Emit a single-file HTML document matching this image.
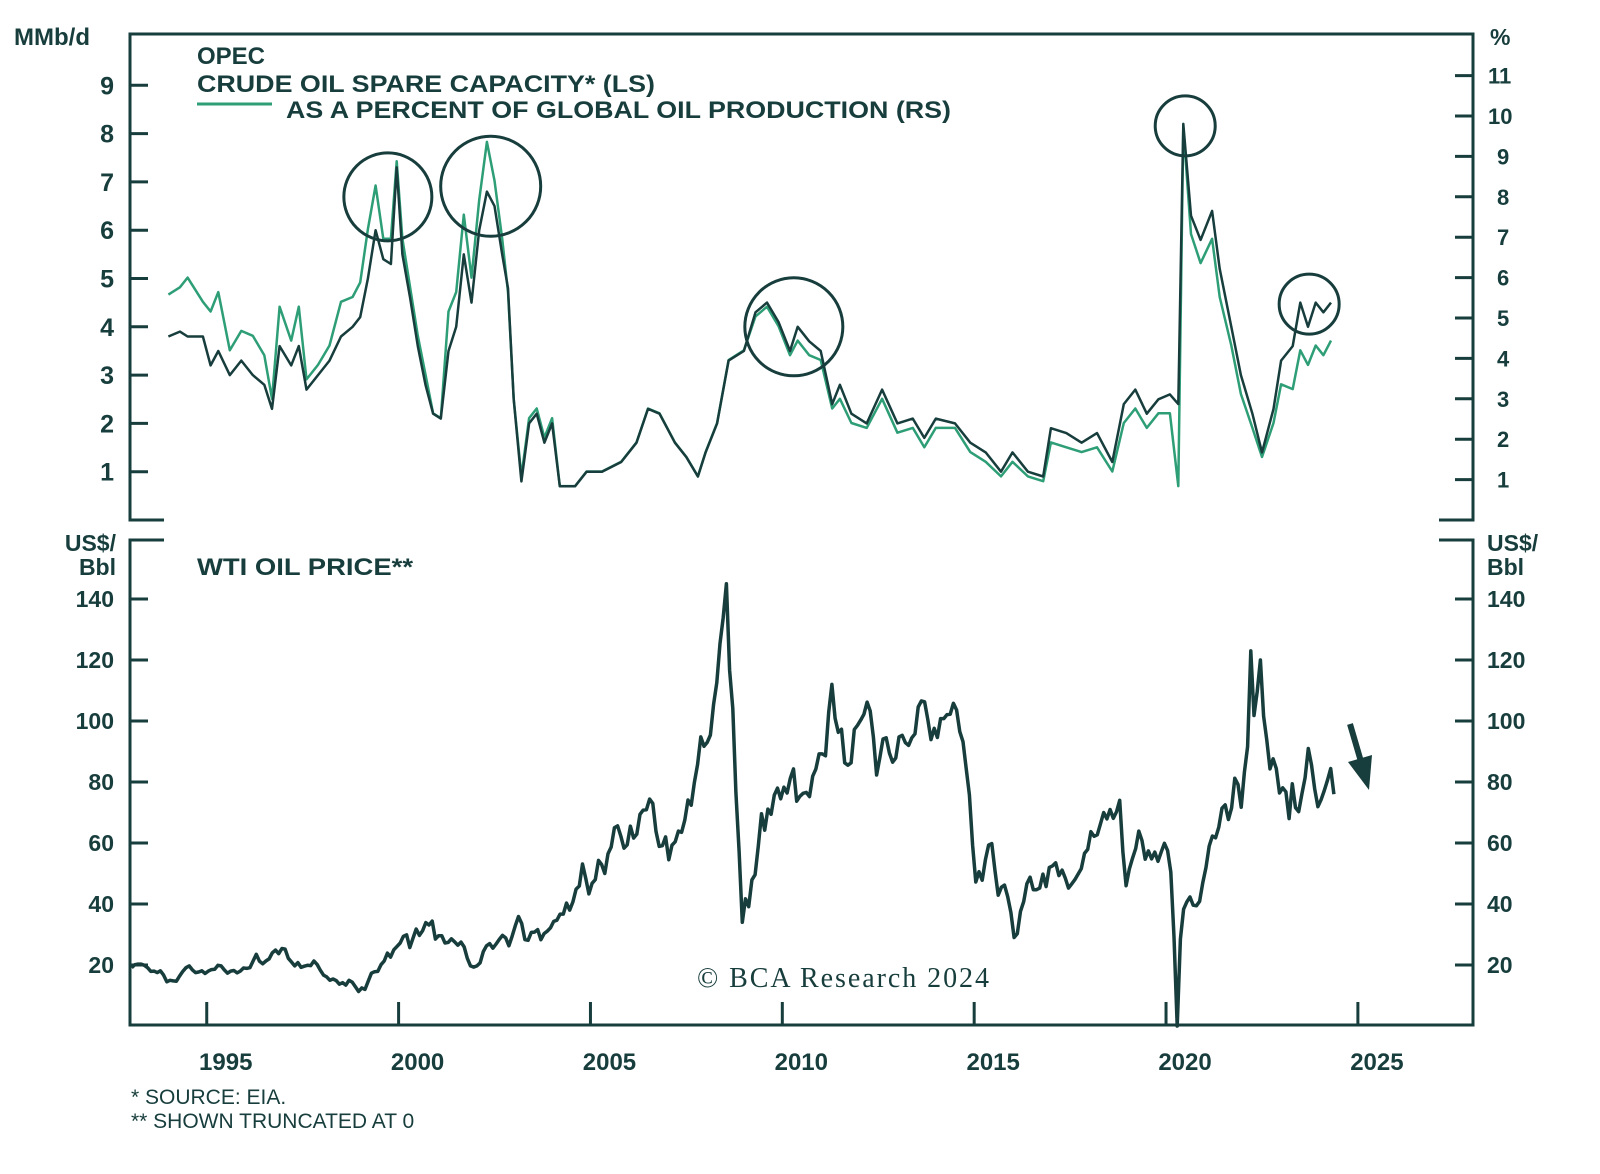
<!DOCTYPE html>
<html><head><meta charset="utf-8"><style>
html,body{margin:0;padding:0;background:#fff;}
svg{display:block;font-family:"Liberation Sans",sans-serif;font-weight:bold;}
</style></head><body>
<svg id="chart" width="1600" height="1174" viewBox="0 0 1600 1174" xmlns="http://www.w3.org/2000/svg"></svg>
<script>
const spareDates=[1994.0,1994.3,1994.5,1994.9,1995.1,1995.3,1995.6,1995.9,1996.2,1996.5,1996.7,1996.9,1997.2,1997.4,1997.6,1997.9,1998.2,1998.5,1998.8,1999.0,1999.2,1999.4,1999.6,1999.8,1999.95,2000.1,2000.3,2000.5,2000.7,2000.9,2001.1,2001.3,2001.5,2001.7,2001.9,2002.1,2002.3,2002.5,2002.7,2002.85,2003.0,2003.2,2003.4,2003.6,2003.8,2004.0,2004.2,2004.6,2004.9,2005.3,2005.8,2006.2,2006.5,2006.8,2007.2,2007.5,2007.8,2008.0,2008.3,2008.6,2009.0,2009.3,2009.6,2009.9,2010.2,2010.4,2010.7,2011.0,2011.3,2011.5,2011.8,2012.2,2012.6,2013.0,2013.4,2013.7,2014.0,2014.5,2014.9,2015.3,2015.7,2016.0,2016.4,2016.8,2017.0,2017.4,2017.8,2018.2,2018.6,2018.9,2019.2,2019.5,2019.8,2020.1,2020.32,2020.45,2020.65,2020.9,2021.2,2021.4,2021.7,2021.95,2022.25,2022.5,2022.8,2023.0,2023.3,2023.5,2023.7,2023.9,2024.1,2024.3];
const spareMbd=[3.8,3.9,3.8,3.8,3.2,3.5,3.0,3.3,3.0,2.8,2.3,3.6,3.2,3.6,2.7,3.0,3.3,3.8,4.0,4.2,5.0,6.0,5.4,5.3,7.3,5.5,4.6,3.6,2.8,2.2,2.1,3.5,4.0,5.5,4.5,6.0,6.8,6.5,5.5,4.8,2.5,0.8,2.0,2.2,1.6,2.0,0.7,0.7,1.0,1.0,1.2,1.6,2.3,2.2,1.6,1.3,0.9,1.4,2.0,3.3,3.5,4.3,4.5,4.1,3.5,4.0,3.7,3.5,2.4,2.8,2.2,2.0,2.7,2.0,2.1,1.7,2.1,2.0,1.6,1.4,1.0,1.4,1.0,0.9,1.9,1.8,1.6,1.8,1.2,2.4,2.7,2.2,2.5,2.6,2.4,8.2,6.3,5.8,6.4,5.2,4.0,3.0,2.2,1.4,2.3,3.3,3.6,4.5,4.0,4.5,4.3,4.5];
const sparePct=[5.58,5.76,6.0,5.4,5.16,5.64,4.2,4.68,4.56,4.08,3.0,5.28,4.44,5.28,3.48,3.84,4.32,5.4,5.52,5.88,7.2,8.28,6.96,6.96,8.88,6.96,5.76,4.56,3.6,2.64,2.52,5.16,5.64,7.56,6.0,7.92,9.36,8.4,6.96,5.64,3.0,1.08,2.52,2.76,2.04,2.52,0.84,0.84,1.2,1.2,1.44,1.92,2.76,2.64,1.92,1.56,1.08,1.68,2.4,3.96,4.2,5.04,5.28,4.8,4.08,4.44,4.08,3.96,2.76,3.0,2.4,2.28,3.0,2.16,2.28,1.8,2.28,2.28,1.68,1.44,1.08,1.44,1.08,0.96,1.92,1.8,1.68,1.8,1.2,2.4,2.76,2.28,2.64,2.64,0.84,9.72,7.08,6.36,6.96,5.52,4.32,3.12,2.28,1.56,2.4,3.36,3.24,4.2,3.84,4.32,4.08,4.44];
const wtiStartYear=1993;
const wtiMonthly=[19.1,20.1,20.3,20.3,19.9,19.1,17.9,18.0,17.5,18.1,16.7,14.5,
15.0,14.8,14.7,16.4,17.9,19.1,19.7,18.4,17.5,17.7,18.1,17.2,
18.0,18.5,18.6,19.9,19.7,18.4,17.3,18.0,18.2,17.4,18.0,19.0,
18.9,19.1,21.3,23.5,21.2,20.4,21.3,22.0,24.0,24.9,23.7,25.4,
25.2,22.2,21.0,19.7,20.8,19.2,19.6,19.9,19.8,21.3,20.2,18.3,
16.7,16.1,15.0,15.4,14.9,13.7,14.2,13.4,15.0,14.4,12.9,11.3,
12.5,12.0,14.7,17.3,17.8,17.9,20.1,21.3,23.9,22.6,25.0,26.1,
27.2,29.4,29.9,25.7,28.8,31.8,29.7,31.2,33.9,33.1,34.4,28.5,
29.6,29.6,27.2,27.4,28.6,27.6,26.5,27.5,25.9,22.2,19.7,19.3,
19.7,20.7,24.4,26.3,27.0,25.5,26.9,28.4,29.7,28.9,26.3,29.4,
32.9,35.9,33.6,28.3,28.1,30.7,30.8,31.6,28.3,30.3,31.1,32.2,
34.3,34.7,36.7,36.7,40.3,38.0,40.7,44.9,45.9,53.1,48.5,43.3,
46.8,48.0,54.3,53.0,50.0,56.5,58.7,65.0,65.6,62.3,58.3,59.4,
65.5,61.6,62.9,69.4,70.8,70.9,74.4,73.0,63.8,58.9,59.1,62.0,
54.5,59.3,60.4,63.9,63.5,67.5,74.1,72.4,79.9,85.8,94.8,91.7,
93.0,95.4,105.5,112.6,125.4,133.9,145.0,116.7,104.1,76.6,57.3,34.0,
41.7,39.1,47.9,49.6,59.0,69.6,64.2,71.1,69.4,75.7,78.0,74.5,
78.3,76.4,81.2,84.3,73.7,75.3,76.3,76.6,75.2,81.9,84.3,89.2,
89.2,88.6,102.9,112.0,100.9,96.3,97.3,86.3,85.5,86.3,97.2,98.6,
100.3,102.2,106.2,103.3,94.7,82.3,87.9,94.1,94.5,89.5,86.5,87.9,
94.8,95.3,92.9,92.0,94.5,95.8,104.6,106.6,106.3,100.5,93.9,97.6,
94.6,100.8,100.8,102.1,102.2,105.8,103.6,96.5,93.2,84.4,75.8,59.3,
47.2,50.6,47.8,54.5,59.3,59.8,50.9,42.9,45.5,46.2,42.4,37.2,
29.0,30.3,37.6,40.8,46.7,48.8,44.7,44.7,45.2,49.8,45.7,52.0,
52.5,53.5,49.3,51.1,48.5,45.2,46.6,48.0,49.8,51.6,56.6,57.9,
63.7,62.2,62.7,66.3,70.0,67.9,71.0,68.1,70.2,74.0,57.0,46.0,
51.4,55.0,58.2,63.9,60.8,54.7,57.4,54.8,57.0,54.0,57.0,59.9,
57.5,50.5,29.2,0.0,28.5,38.3,40.7,42.3,39.6,39.4,40.9,47.0,
52.0,59.0,62.3,61.7,65.2,71.4,72.5,67.7,71.5,81.2,79.2,71.7,
83.2,91.6,123.0,101.8,109.6,120.0,101.6,93.7,84.3,87.6,84.4,76.4,
78.1,76.8,68.0,79.4,71.6,70.3,76.1,81.4,91.0,85.6,77.7,71.9,
74.2,77.2,80.6,84.4,76.0];
const yearTicks=[1995,2000,2005,2010,2015,2020,2025];
const mbdTicks=[1,2,3,4,5,6,7,8,9];
const pctTicks=[1,2,3,4,5,6,7,8,9,10,11];
const priceTicks=[20,40,60,80,100,120,140];

const NS="http://www.w3.org/2000/svg";
const svg=document.getElementById('chart');
const X0=130,X1=1473,Y0=1993,YRS=35;
const xS=y=>X0+(y-Y0)*(X1-X0)/YRS;
const yM=v=>520-v*48.3;
const yP=v=>520-v*40.4;
const yW=v=>1026-v*3.05;
const C="#173d3c",G="#2e9e77";
function el(t,a,txt){const e=document.createElementNS(NS,t);for(const k in a)e.setAttribute(k,a[k]);if(txt!==undefined)e.textContent=txt;svg.appendChild(e);return e;}

let e;
e=el('path',{d:`M164 520 H130 V34 H1473 V520 H1439`,fill:'none',stroke:C,'stroke-width':3});


e=el('path',{d:`M164 540 H130 V1025 H1473 V540 H1439`,fill:'none',stroke:C,'stroke-width':3});



mbdTicks.forEach(v=>{const y=yM(v);
 e=el('line',{x1:130,x2:148,y1:y,y2:y,stroke:C,'stroke-width':3});
 
 
 e=el('text',{x:114,y:y+9,'text-anchor':'end','font-size':25,fill:C},v);
 
 });
pctTicks.forEach(v=>{const y=yP(v);
 e=el('line',{x1:1455,x2:1473,y1:y,y2:y,stroke:C,'stroke-width':3});
 
 
 e=el('text',{x:v>=10?1488:1497,y:y+8,'font-size':22,fill:C},v);
 
 });
priceTicks.forEach(v=>{const y=yW(v);
 e=el('line',{x1:130,x2:148,y1:y,y2:y,stroke:C,'stroke-width':3});
 
 
 e=el('line',{x1:1455,x2:1473,y1:y,y2:y,stroke:C,'stroke-width':3});
 
 
 e=el('text',{x:114,y:y+8,'text-anchor':'end','font-size':23,fill:C},v);
 
 
 e=el('text',{x:1487,y:y+8,'font-size':23,fill:C},v);
 
 });
yearTicks.forEach(v=>{const x=xS(v);
 e=el('line',{x1:x,x2:x,y1:1025,y2:1002,stroke:C,'stroke-width':3});
 
 
 e=el('text',{x:x+19,y:1070,'text-anchor':'middle','font-size':24,fill:C},v);
 
 });

e=el('text',{x:14,y:45,'font-size':24,fill:C},'MMb/d');


e=el('text',{x:1490,y:45,'font-size':23,fill:C},'%');


[[116,'end','left'],[1487,'start','right']].forEach(([x,a,s])=>{
 e=el('text',{x:x,y:551,'text-anchor':a,'font-size':23,fill:C},'US$/');
 
 
 e=el('text',{x:x,y:575,'text-anchor':a,'font-size':23,fill:C},'Bbl');
 
 });

e=el('text',{x:197,y:64,'font-size':24,fill:C},'OPEC');


e=el('text',{x:197,y:92,'font-size':24,fill:C,textLength:458,lengthAdjust:'spacingAndGlyphs'},'CRUDE OIL SPARE CAPACITY* (LS)');


e=el('line',{x1:197,x2:272,y1:104,y2:104,stroke:G,'stroke-width':3});


e=el('text',{x:286,y:118,'font-size':24,fill:C,textLength:665,lengthAdjust:'spacingAndGlyphs'},'AS A PERCENT OF GLOBAL OIL PRODUCTION (RS)');


e=el('text',{x:197,y:575,'font-size':24,fill:C,textLength:216,lengthAdjust:'spacingAndGlyphs'},'WTI OIL PRICE**');



function pathFrom(xs,ys){return xs.map((x,i)=>(i?'L':'M')+x.toFixed(1)+' '+ys[i].toFixed(1)).join(' ');}
e=el('path',{d:pathFrom(spareDates.map(xS),sparePct.map(yP)),fill:'none',stroke:G,'stroke-width':2.5,'stroke-linejoin':'round'});


e=el('path',{d:pathFrom(spareDates.map(xS),spareMbd.map(yM)),fill:'none',stroke:C,'stroke-width':2.5,'stroke-linejoin':'round'});


const wx=wtiMonthly.map((v,i)=>xS(wtiStartYear+(i+0.5)/12));
e=el('path',{d:pathFrom(wx,wtiMonthly.map(yW)),fill:'none',stroke:C,'stroke-width':3.5,'stroke-linejoin':'round'});



[[1999.72,6.69,44],[2002.4,6.91,50],[2010.3,4.0,49],[2020.5,8.16,30],[2023.73,4.47,30]].forEach(([yr,v,r])=>{
 e=el('circle',{cx:xS(yr),cy:yM(v),r:r,fill:'none',stroke:C,'stroke-width':3});
 
 });

e=el('line',{x1:1350,y1:724,x2:1362,y2:765,stroke:C,'stroke-width':6});


e=el('polygon',{points:'1348,762 1372,755 1369,790',fill:C});



e=el('text',{x:697,y:987,'font-size':28,fill:C,'font-weight':'normal','font-family':'"Liberation Serif",serif',textLength:292},'© BCA Research 2024');


e=el('text',{x:131,y:1104,'font-size':21,fill:C,'font-weight':'normal'},'* SOURCE: EIA.');


e=el('text',{x:131,y:1128,'font-size':21,fill:C,'font-weight':'normal'},'** SHOWN TRUNCATED AT 0');


</script>
</body></html>
